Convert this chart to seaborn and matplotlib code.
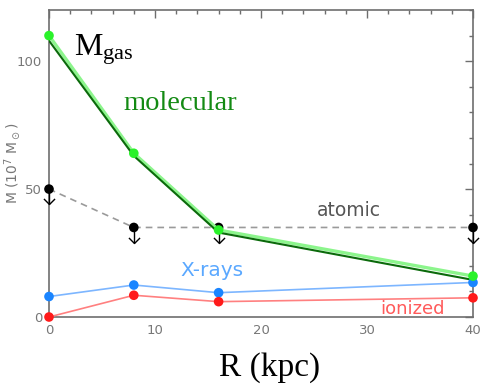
import numpy as np
import pandas as pd
import matplotlib
matplotlib.use("Agg")
import matplotlib.pyplot as plt
from matplotlib.path import Path
from matplotlib.ticker import MultipleLocator
import seaborn as sns

# ---- data ----
R = [0, 8, 16, 40]
total_gas = [110, 64, 34, 16]
molecular = [108, 63, 33, 14.5]
atomic = [50, 35, 35, 35]
xrays = [8, 12.5, 9.5, 13.5]
ionized = [0, 8.5, 6, 7.5]
arrow_len = 6

df = pd.DataFrame({"R": R, "total": total_gas, "molecular": molecular,
                   "atomic": atomic, "xrays": xrays, "ionized": ionized})

sns.set_style("white")
plt.rcParams["font.family"] = ["DejaVu Sans"]

fig = plt.figure(figsize=(4.9, 3.87), dpi=100)
ax = fig.add_axes([49/490, 1-317/387, 424/490, 307/387])

axis_gray = "#6e6e6e"
light_green = "#2af22a"
dark_green = "#0b6a0b"
blue_line = "#7db6ff"
blue_pt = "#1a85ff"
red_line = "#ff8080"
red_pt = "#ff1a1a"

# atomic (upper limits)
sns.lineplot(data=df, x="R", y="atomic", ax=ax, color="#9a9a9a", lw=1.2,
             linestyle=(0, (4, 3)), legend=False, zorder=2)
ax.vlines(df["R"], df["atomic"] - arrow_len, df["atomic"], color="black",
          lw=1.0, zorder=3, clip_on=False)
chevron = Path([(-1, 1), (0, 0), (1, 1)],
               [Path.MOVETO, Path.LINETO, Path.LINETO])
ax.plot(df["R"], df["atomic"] - arrow_len, linestyle="none", marker=chevron,
        markersize=8, markerfacecolor="none", markeredgecolor="black",
        markeredgewidth=1.0, zorder=3, clip_on=False)
sns.scatterplot(data=df, x="R", y="atomic", ax=ax, color="black", s=48,
                edgecolor="none", zorder=4, clip_on=False, legend=False)

# total gas (light green) and molecular (dark green)
sns.lineplot(data=df, x="R", y="total", ax=ax, color="#8cf58c", lw=2.4,
             legend=False, zorder=5)
sns.lineplot(data=df, x="R", y="molecular", ax=ax, color=dark_green, lw=1.5,
             legend=False, zorder=6)
sns.scatterplot(data=df, x="R", y="total", ax=ax, color=light_green, s=48,
                edgecolor="none", zorder=7, clip_on=False, legend=False)

# X-rays
sns.lineplot(data=df, x="R", y="xrays", ax=ax, color=blue_line, lw=1.2,
             legend=False, zorder=5)
sns.scatterplot(data=df, x="R", y="xrays", ax=ax, color=blue_pt, s=48,
                edgecolor="none", zorder=6, clip_on=False, legend=False)

# ionized
sns.lineplot(data=df, x="R", y="ionized", ax=ax, color=red_line, lw=1.2,
             legend=False, zorder=5)
sns.scatterplot(data=df, x="R", y="ionized", ax=ax, color=red_pt, s=48,
                edgecolor="none", zorder=6, clip_on=False, legend=False)

# axes styling
ax.set_xlim(0, 40)
ax.set_ylim(0, 120)
ax.xaxis.set_major_locator(MultipleLocator(10))
ax.xaxis.set_minor_locator(MultipleLocator(2))
ax.yaxis.set_major_locator(MultipleLocator(50))
ax.yaxis.set_minor_locator(MultipleLocator(10))
for s in ax.spines.values():
    s.set_color(axis_gray)
    s.set_linewidth(1.2)
ax.tick_params(which="both", direction="in", top=True, right=True,
               color=axis_gray, width=1.0, labelcolor="#777777",
               labelsize=9.5)
ax.tick_params(which="major", length=6, pad=5)
ax.tick_params(which="minor", length=3)

ax.set_xlabel("R (kpc)", family="Liberation Serif", fontsize=24,
              color="black")
ax.xaxis.set_label_coords(0.521, -0.115)
ax.set_ylabel(r"M (10$^7$ M$_\odot$)", fontsize=10, color="#777777")
ax.yaxis.set_label_coords(-0.062, 0.5)

# annotations
ax.text(2.4, 104.5, r"$\mathregular{M_{gas}}$", family="Liberation Serif",
        fontsize=23, color="black", va="center", ha="left")
ax.text(12.4, 83.3, "molecular", family="Liberation Serif", fontsize=20.5,
        color="#138a13", va="center", ha="center")
ax.text(28.3, 41.5, "atomic", fontsize=13.5, color="#555555",
        va="center", ha="center")
ax.text(15.4, 18.3, "X-rays", fontsize=14.5, color="#5aa8ff",
        va="center", ha="center")
ax.text(34.3, 3.0, "ionized", fontsize=13, color="#ff5a5a",
        va="center", ha="center")

fig.savefig("out.png", dpi=100)
